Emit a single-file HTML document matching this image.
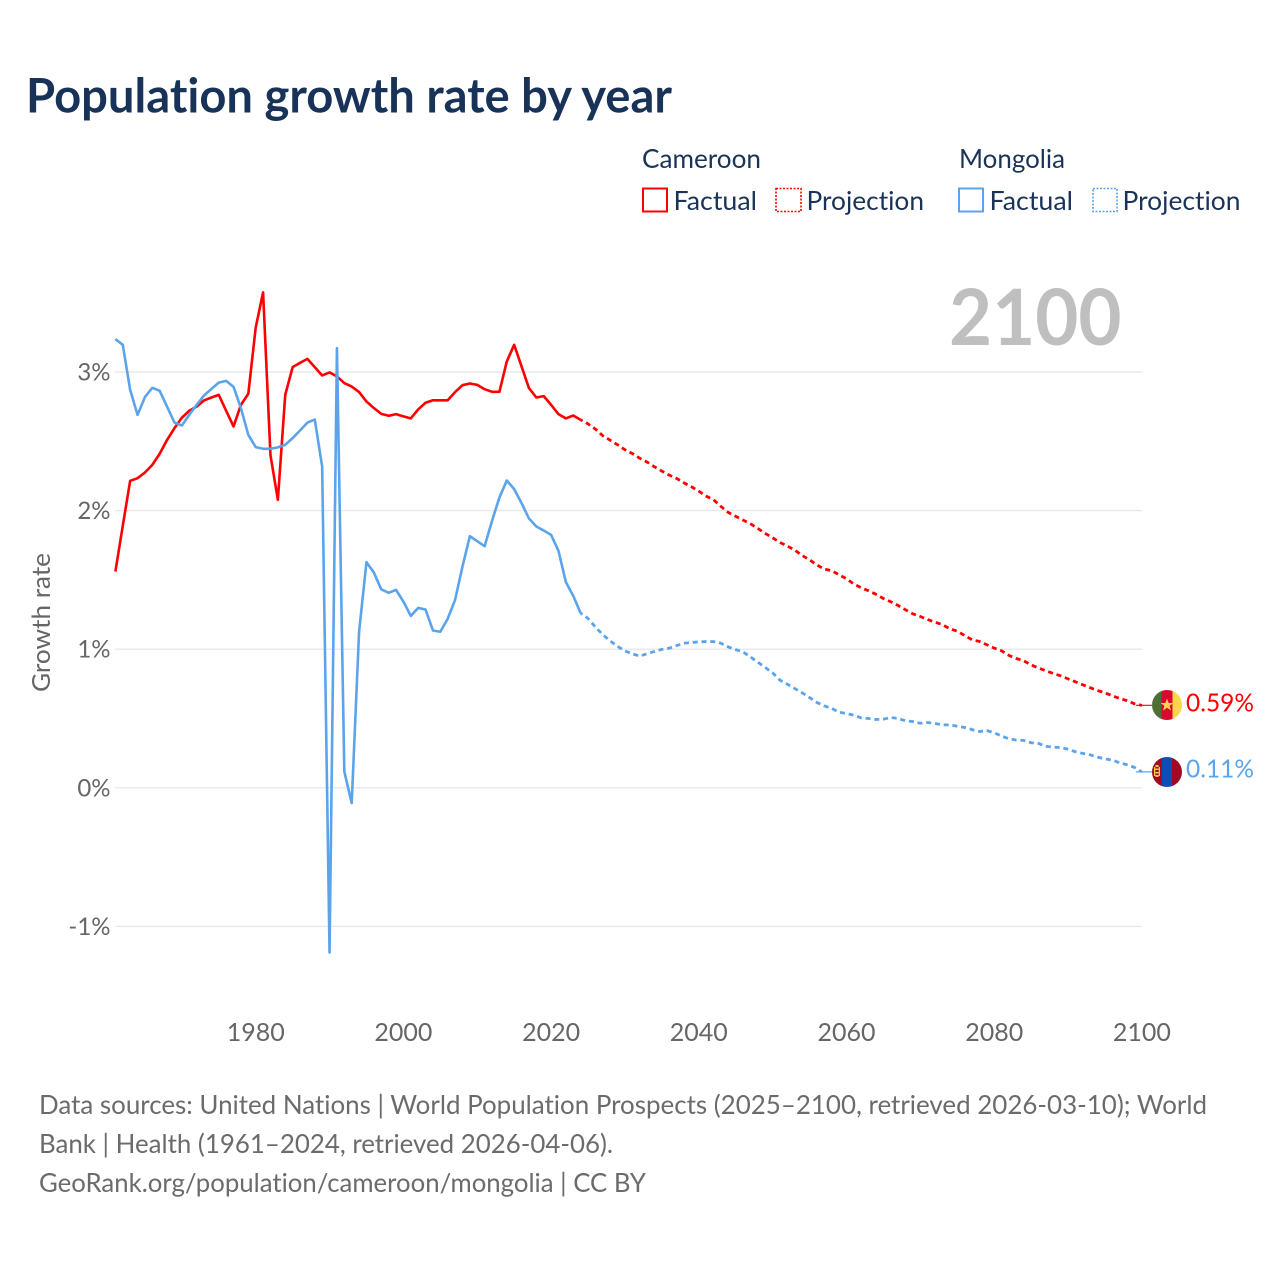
<!DOCTYPE html>
<html lang="en">
<head>
<meta charset="utf-8">
<title>Population growth rate by year</title>
<style>
html,body{margin:0;padding:0;background:#fff;width:1280px;height:1280px;overflow:hidden}
svg{display:block;font-family:"Lato","Carlito","Liberation Sans",sans-serif;font-variant-ligatures:none;font-feature-settings:"liga" 0,"clig" 0}
</style>
</head>
<body>
<svg id="chart" xmlns="http://www.w3.org/2000/svg" width="1280" height="1280" viewBox="0 0 1280 1280">
  <rect x="0" y="0" width="1280" height="1280" fill="#ffffff"/>
  <text x="26" y="112.5" font-size="47.5" font-weight="700" fill="#183258" textLength="646" lengthAdjust="spacingAndGlyphs">Population growth rate by year</text>

  <g font-size="26" fill="#1a3357">
    <text x="642" y="168" textLength="119" lengthAdjust="spacingAndGlyphs">Cameroon</text>
    <text x="959" y="168" textLength="106" lengthAdjust="spacingAndGlyphs">Mongolia</text>
    <rect x="643" y="188.5" width="24" height="23" fill="none" stroke="#ff0000" stroke-width="2"/>
    <text x="673.5" y="210" textLength="83.5" lengthAdjust="spacingAndGlyphs">Factual</text>
    <rect x="776" y="188.5" width="25" height="23" fill="none" stroke="#ff0000" stroke-width="1.6" stroke-dasharray="2 1.5"/>
    <text x="806.5" y="210" textLength="117.5" lengthAdjust="spacingAndGlyphs">Projection</text>
    <rect x="959" y="188.5" width="24" height="23" fill="none" stroke="#5ba4ec" stroke-width="2"/>
    <text x="989.5" y="210" textLength="83.5" lengthAdjust="spacingAndGlyphs">Factual</text>
    <rect x="1093" y="188.5" width="24" height="23" fill="none" stroke="#5ba4ec" stroke-width="1.6" stroke-dasharray="2 1.5"/>
    <text x="1122.5" y="210" textLength="118" lengthAdjust="spacingAndGlyphs">Projection</text>
  </g>

  <text x="949" y="345" font-size="78" font-weight="700" fill="#bfbfbf" textLength="172.5" lengthAdjust="spacingAndGlyphs">2100</text>

  <g id="grid"></g>
  <g id="yticks" font-size="24" fill="#666666" text-anchor="end"></g>
  <g id="xticks" font-size="25" fill="#666666" text-anchor="middle"></g>
  <text transform="translate(50,622.5) rotate(-90)" font-size="25" fill="#666666" text-anchor="middle" textLength="139" lengthAdjust="spacingAndGlyphs">Growth rate</text>

  <g id="series"></g>

  <defs>
    <clipPath id="flagClipA"><circle cx="1167" cy="705" r="15"/></clipPath>
    <clipPath id="flagClipB"><circle cx="1167" cy="772" r="15"/></clipPath>
  </defs>
  <g clip-path="url(#flagClipA)">
    <rect x="1152" y="690" width="9.5" height="30" fill="#4d6e34"/>
    <rect x="1161.5" y="690" width="11" height="30" fill="#d9082f"/>
    <rect x="1172.5" y="690" width="9.5" height="30" fill="#fdd54a"/>
    <polygon points="1167,698.5 1168.6,703 1173.4,703 1169.6,705.9 1171,710.5 1167,707.8 1163,710.5 1164.4,705.9 1160.6,703 1165.4,703" fill="#fdd54a"/>
  </g>
  <g clip-path="url(#flagClipB)">
    <rect x="1152" y="757" width="10" height="30" fill="#a00a25"/>
    <rect x="1162" y="757" width="10" height="30" fill="#0a4fb5"/>
    <rect x="1172" y="757" width="10" height="30" fill="#a00a25"/>
    <rect x="1154" y="767" width="1.3" height="9" fill="#f5cf4a"/>
    <rect x="1158.7" y="767" width="1.3" height="9" fill="#f5cf4a"/>
    <rect x="1155.5" y="765" width="3" height="2" fill="#f5cf4a"/>
    <rect x="1155.5" y="768.5" width="3" height="1.5" fill="#f5cf4a"/>
    <rect x="1155.5" y="772" width="3" height="1.5" fill="#f5cf4a"/>
    <rect x="1155.5" y="775" width="3" height="2" fill="#f5cf4a"/>
  </g>
  <text x="1186" y="711.5" font-size="25.5" fill="#ff0000" textLength="68" lengthAdjust="spacingAndGlyphs">0.59%</text>
  <text x="1186" y="777.5" font-size="25.5" fill="#5ba4ec" textLength="68" lengthAdjust="spacingAndGlyphs">0.11%</text>

  <g font-size="26" fill="#6b6b6b">
    <text x="39" y="1114" textLength="1168" lengthAdjust="spacingAndGlyphs">Data sources: United Nations | World Population Prospects (2025–2100, retrieved 2026-03-10); World</text>
    <text x="39" y="1153" textLength="574" lengthAdjust="spacingAndGlyphs">Bank | Health (1961–2024, retrieved 2026-04-06).</text>
    <text x="39" y="1192" textLength="607" lengthAdjust="spacingAndGlyphs">GeoRank.org/population/cameroon/mongolia | CC BY</text>
  </g>
</svg>
<script>
const factualStartYear = 1961;
const projectionStartYear = 2024;
const yTickValues = [3, 2, 1, 0, -1];
const yTickLabels = ["3%", "2%", "1%", "0%", "-1%"];
const xTickYears = [1980, 2000, 2020, 2040, 2060, 2080, 2100];
const cameroonFactual = [
  1.56,1.89,2.215,2.234,2.275,2.33,2.41,2.51,2.595,2.67,
  2.72,2.75,2.795,2.816,2.835,2.72,2.607,2.763,2.843,3.32,
  3.574,2.40,2.078,2.835,3.035,3.066,3.095,3.035,2.975,2.997,
  2.968,2.92,2.895,2.855,2.787,2.74,2.698,2.684,2.696,2.68,
  2.665,2.73,2.778,2.796,2.796,2.796,2.855,2.905,2.917,2.907,
  2.876,2.857,2.857,3.076,3.196,3.04,2.884,2.816,2.826,2.763,
  2.696,2.665,2.686,2.655
];
const mongoliaFactual = [
  3.238,3.196,2.872,2.691,2.819,2.886,2.864,2.75,2.635,2.614,
  2.691,2.763,2.83,2.878,2.923,2.936,2.893,2.739,2.547,2.458,
  2.446,2.446,2.456,2.475,2.523,2.578,2.635,2.657,2.318,-1.188,
  3.172,0.117,-0.11,1.127,1.628,1.553,1.432,1.407,1.428,1.344,
  1.24,1.298,1.286,1.135,1.126,1.22,1.356,1.596,1.815,1.779,
  1.743,1.926,2.094,2.217,2.155,2.054,1.943,1.885,1.856,1.825,
  1.71,1.484,1.385,1.26
];
const cameroonProjection = [
  2.655,2.626,2.588,2.54,2.508,2.475,2.439,2.412,2.378,2.35,
  2.316,2.285,2.256,2.232,2.2,2.172,2.14,2.104,2.078,2.03,
  1.986,1.958,1.931,1.905,1.871,1.835,1.804,1.77,1.744,1.715,
  1.676,1.645,1.607,1.578,1.566,1.537,1.508,1.47,1.443,1.421,
  1.396,1.366,1.342,1.315,1.284,1.255,1.236,1.214,1.195,1.176,
  1.147,1.13,1.099,1.068,1.056,1.032,1.008,0.988,0.955,0.933,
  0.916,0.887,0.864,0.844,0.825,0.808,0.786,0.765,0.743,0.722,
  0.702,0.685,0.664,0.644,0.628,0.606,0.595
];
const mongoliaProjection = [
  1.26,1.222,1.16,1.105,1.06,1.02,0.987,0.967,0.95,0.967,
  0.984,0.999,1.007,1.026,1.043,1.048,1.053,1.055,1.055,1.043,
  1.016,0.997,0.98,0.944,0.906,0.868,0.829,0.776,0.747,0.716,
  0.685,0.651,0.615,0.591,0.572,0.545,0.536,0.524,0.504,0.5,
  0.493,0.495,0.507,0.5,0.483,0.478,0.466,0.471,0.464,0.454,
  0.454,0.444,0.435,0.42,0.406,0.413,0.397,0.373,0.354,0.344,
  0.342,0.325,0.32,0.3,0.293,0.291,0.278,0.26,0.248,0.238,
  0.221,0.209,0.2,0.18,0.166,0.147,0.115
];

const NS = "http://www.w3.org/2000/svg";
const flagLeftEdge = 1152;
function xScale(year) { return 255.7 + (year - 1980) * 7.385; }
function yScale(value) { return 787.8 - 138.6 * value; }
function linePath(values, startYear) {
  return values.map(function (v, i) {
    return (i ? "L" : "M") + xScale(startYear + i).toFixed(2) + " " + yScale(v).toFixed(2);
  }).join("");
}

const gridGroup = document.getElementById("grid");
const yTickGroup = document.getElementById("yticks");
yTickValues.forEach(function (v, i) {
  const line = document.createElementNS(NS, "line");
  
  
  line.setAttribute("x1", xScale(factualStartYear));
  line.setAttribute("x2", xScale(2100));
  line.setAttribute("y1", yScale(v));
  line.setAttribute("y2", yScale(v));
  line.setAttribute("stroke", "#e8e8e8");
  line.setAttribute("stroke-width", "1.4");
  gridGroup.appendChild(line);

  const label = document.createElementNS(NS, "text");
  
  
  label.setAttribute("x", "110.5");
  label.setAttribute("y", yScale(v) + 8.5);
  label.textContent = yTickLabels[i];
  yTickGroup.appendChild(label);
});

const xTickGroup = document.getElementById("xticks");
xTickYears.forEach(function (year) {
  const label = document.createElementNS(NS, "text");
  
  
  label.setAttribute("x", xScale(year));
  label.setAttribute("y", "1041");
  label.textContent = String(year);
  xTickGroup.appendChild(label);
});

const seriesGroup = document.getElementById("series");
function addLine(name, values, startYear, color, dashed) {
  const path = document.createElementNS(NS, "path");
  
  
  path.setAttribute("d", linePath(values, startYear));
  path.setAttribute("fill", "none");
  path.setAttribute("stroke", color);
  path.setAttribute("stroke-width", dashed ? "2.8" : "2.6");
  path.setAttribute("stroke-linejoin", "round");
  if (dashed) {
    path.setAttribute("stroke-dasharray", "5 3.8");
    path.setAttribute("stroke-dashoffset", "-6");
  }
  seriesGroup.appendChild(path);
}
function addLeader(name, lastValue, color) {
  const leader = document.createElementNS(NS, "line");
  
  
  leader.setAttribute("x1", xScale(2100) - 6);
  leader.setAttribute("x2", flagLeftEdge);
  leader.setAttribute("y1", yScale(lastValue));
  leader.setAttribute("y2", yScale(lastValue));
  leader.setAttribute("stroke", color);
  leader.setAttribute("stroke-width", "1.2");
  seriesGroup.appendChild(leader);
}
addLine("cameroon-factual-line", cameroonFactual, factualStartYear, "#ff0000", false);
addLine("cameroon-projection-line", cameroonProjection, projectionStartYear, "#ff0000", true);
addLeader("cameroon-flag-leader", cameroonProjection[cameroonProjection.length - 1], "#ff0000");
addLine("mongolia-factual-line", mongoliaFactual, factualStartYear, "#5ba4ec", false);
addLine("mongolia-projection-line", mongoliaProjection, projectionStartYear, "#5ba4ec", true);
addLeader("mongolia-flag-leader", mongoliaProjection[mongoliaProjection.length - 1], "#5ba4ec");
</script>
</body>
</html>
